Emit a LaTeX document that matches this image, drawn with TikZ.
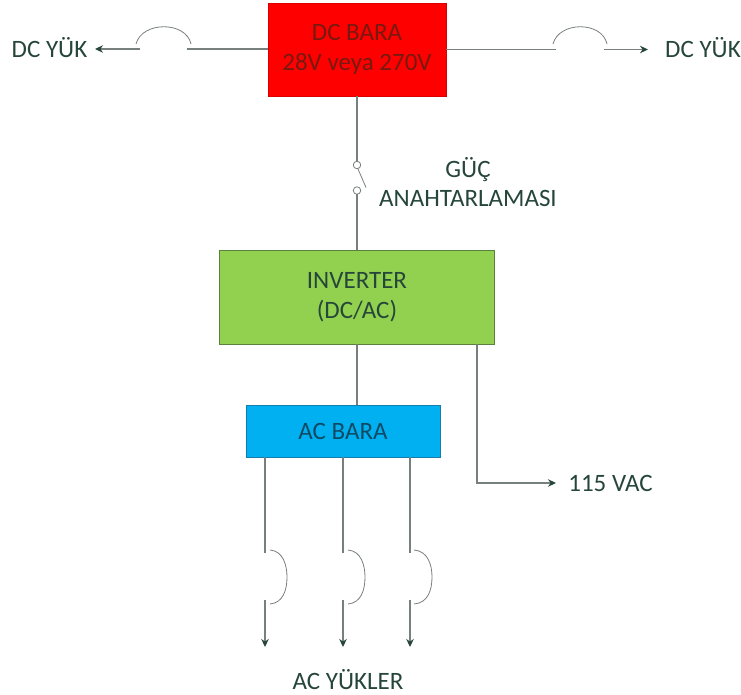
\documentclass[tikz,border=0pt]{standalone}
\usepackage{fontspec}
\setmainfont{Carlito}
\usetikzlibrary{arrows.meta,positioning,calc}
\definecolor{txtgreen}{RGB}{38,70,58}
\definecolor{wire}{RGB}{120,128,125}
\tikzset{
  blk/.style={draw, align=center, inner sep=0pt, outer sep=0pt, font=\fontsize{25}{29.5}\selectfont},
  lbl/.style={font=\fontsize{25}{29.5}\selectfont, text=txtgreen, align=center, inner sep=0pt},
  dcbox/.style={blk, fill=red, draw=red!85!black, text={rgb,255:red,120;green,25;blue,15}, minimum width=178pt, minimum height=93pt},
  invbox/.style={blk, fill={rgb,255:red,146;green,208;blue,80}, draw={rgb,255:red,90;green,130;blue,60}, text=txtgreen, minimum width=275pt, minimum height=94pt},
  acbox/.style={blk, fill={rgb,255:red,0;green,176;blue,240}, draw={rgb,255:red,20;green,125;blue,175}, text={rgb,255:red,15;green,75;blue,100}, minimum width=194pt, minimum height=52pt},
  contact/.style={draw=wire, circle, minimum size=7.5pt, inner sep=0pt, outer sep=0pt, line width=0.8pt},
  sig/.style={draw=wire, line width=1.1pt},
  sigend/.style={sig, -{Stealth[length=8pt,width=7.5pt,color=txtgreen]}},
  fuse/.style={draw=wire, line width=0.8pt},
}
\begin{document}
\begin{tikzpicture}[x=1pt,y=-1pt]
    \useasboundingbox (0,0) rectangle (741,695);
    % boxes
    \node[dcbox] (dc) at (357,49.5) {DC BARA\\28V veya 270V};
    \node[invbox,below=154pt of dc] (inv) {INVERTER\\(DC/AC)};
    \node[acbox] (ac) at (343,431) {AC BARA};
    % labels
    \node[lbl] (dcl) at (49.5,48) {DC YÜK};
    \node[lbl] (dcr) at (703,48) {DC YÜK};
    \node[lbl] (sw) at (468,182) {GÜÇ\\ANAHTARLAMASI};
    \node[lbl] (vac) at (610.5,483) {115 VAC};
    \node[lbl] (acl) at (348,680) {AC YÜKLER};
    % left and right dc fuses
    \coordinate (la) at (187,49);
    \coordinate (lb) at (140,49);
    \coordinate (ltip) at (95,49);
    \coordinate (ra) at (556,49.5);
    \coordinate (rb) at (604,49.5);
    \coordinate (rtip) at (648,49.5);
    \draw[sig] (dc.west |- la) -- (la);
    \draw[sigend] (lb) -- (ltip);
    \draw[fuse] (136,44) .. controls (142,21) and (186,21) .. (191,44);
    \draw[sig] (dc.east |- ra) -- (ra);
    \draw[sigend] (rb) -- (rtip);
    \draw[fuse] (553,44) .. controls (559,21) and (602,21) .. (607,44);
    % switch
    \node[contact] (s1) at (357,165) {};
    \node[contact] (s2) at (357,190.5) {};
    \draw[sig] (dc.south) -- (s1);
    \draw[sig] (s2) -- (s2 |- inv.north);
    \draw[fuse] (358,169) -- (366,187.5);
    % inverter outputs
    \draw[sig] (inv.south) -- (inv.south |- ac.north);
    \coordinate (vtip) at (556,483);
    \draw[sigend] (477,344) |- (vtip);
    % ac branches
    \coordinate (a1) at (265,553);
    \coordinate (b1) at (265,600);
    \coordinate (t1) at (265,647);
    \coordinate (a2) at (343,553);
    \coordinate (b2) at (343,600);
    \coordinate (t2) at (343,647);
    \coordinate (a3) at (410,553);
    \coordinate (b3) at (410,600);
    \coordinate (t3) at (410,647);
    \draw[sig] (a1 |- ac.south) -- (a1);
    \draw[sigend] (b1) -- (t1);
    \draw[fuse] (270,550) .. controls (283,551) and (287,565) .. (287,577) .. controls (287,590) and (283,603) .. (270,604);
    \draw[sig] (a2 |- ac.south) -- (a2);
    \draw[sigend] (b2) -- (t2);
    \draw[fuse] (348,550) .. controls (361,551) and (365,565) .. (365,577) .. controls (365,590) and (361,603) .. (348,604);
    \draw[sig] (a3 |- ac.south) -- (a3);
    \draw[sigend] (b3) -- (t3);
    \draw[fuse] (414,550) .. controls (428,551) and (432,565) .. (432,577) .. controls (432,590) and (428,603) .. (414,604);
\end{tikzpicture}
\end{document}
